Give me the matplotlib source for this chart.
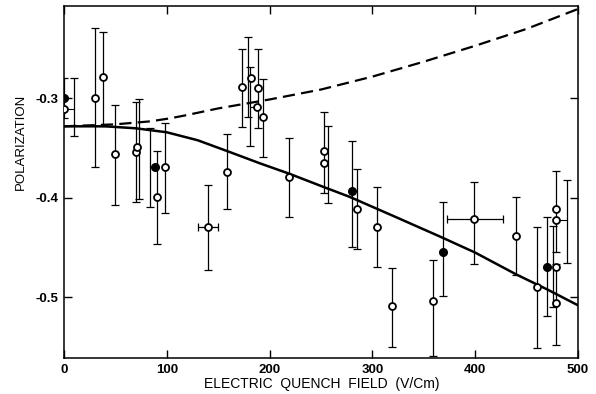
import numpy as np
import matplotlib
matplotlib.use("Agg")
import matplotlib.pyplot as plt

plt.rcParams['font.family'] = ['Liberation Sans', 'DejaVu Sans']

# open circles: field (V/cm), polarization, error bar limits, x of error bar
open_x = [0, 30, 38, 50, 70, 71, 90, 98, 140, 159, 173, 182, 188, 189, 194,
          219, 253, 253, 285, 304, 319, 359, 399, 440, 460, 479, 479, 479, 479]
open_y = [-0.311, -0.300, -0.278, -0.356, -0.354, -0.349, -0.399, -0.369, -0.429,
          -0.374, -0.288, -0.279, -0.309, -0.289, -0.319, -0.379, -0.353, -0.365,
          -0.411, -0.429, -0.509, -0.504, -0.421, -0.438, -0.490, -0.411, -0.422,
          -0.469, -0.506]
open_hi = [-0.279, -0.229, -0.233, -0.307, -0.304, -0.301, -0.353, -0.325, -0.387,
           -0.336, -0.250, -0.238, -0.268, -0.250, -0.280, -0.340, -0.314, -0.328,
           -0.371, -0.389, -0.470, -0.462, -0.384, -0.399, -0.429, -0.373, -0.382,
           -0.428, -0.466]
open_lo = [-0.338, -0.369, -0.328, -0.407, -0.404, -0.401, -0.446, -0.415, -0.473,
           -0.411, -0.329, -0.319, -0.348, -0.330, -0.359, -0.419, -0.395, -0.405,
           -0.451, -0.469, -0.550, -0.559, -0.466, -0.478, -0.551, -0.454, -0.465,
           -0.510, -0.548]
open_bar_x = [10, 30, 38, 50, 70, 73, 90, 98, 140, 159, 173, 179, 181, 189, 194,
              219, 253, 257, 285, 304, 319, 359, 399, 440, 460, 479, 489, 476, 479]

# horizontal error bars (field uncertainty)
xerr_x = [140, 399]
xerr_y = [-0.429, -0.421]
xerr_lo = [130, 373]
xerr_hi = [150, 427]

# filled circles
fill_x = [0, 89, 280, 369, 470]
fill_y = [-0.300, -0.369, -0.393, -0.454, -0.469]
fill_hi = [-0.279, -0.330, -0.343, -0.404, -0.419]
fill_lo = [-0.320, -0.409, -0.449, -0.499, -0.519]
fill_bar_x = [0, 84, 280, 369, 470]

# theory curves
solid_x = [0, 40, 70, 100, 130, 159, 190, 220, 250, 278, 320, 366, 400, 440, 470, 500]
solid_y = [-0.328, -0.328, -0.330, -0.334, -0.342, -0.353, -0.365, -0.376, -0.388,
           -0.399, -0.418, -0.439, -0.455, -0.477, -0.492, -0.508]
dash_x = [0, 50, 84, 103, 118, 150, 200, 250, 300, 350, 400, 450, 500]
dash_y = [-0.328, -0.326, -0.323, -0.320, -0.317, -0.310, -0.301, -0.291, -0.278,
          -0.263, -0.247, -0.230, -0.210]

fig = plt.figure(figsize=(5.96, 3.94), dpi=100)
ax = fig.add_axes([64/596, 36/394, 514/596, 352/394])

ax.plot(solid_x, solid_y, color='black', lw=1.8, zorder=3)
ax.plot(dash_x, dash_y, color='black', lw=1.6, dashes=(5.5, 2.8), zorder=3)

# error bars, some drawn beside their point and joined by a short line
ob = np.array(open_bar_x)
oy = np.array(open_y)
ax.errorbar(ob, oy, yerr=[oy - np.array(open_lo), np.array(open_hi) - oy],
            fmt='none', ecolor='black', elinewidth=0.9, capsize=3, capthick=0.9)
fb = np.array(fill_bar_x)
fy = np.array(fill_y)
ax.errorbar(fb, fy, yerr=[fy - np.array(fill_lo), np.array(fill_hi) - fy],
            fmt='none', ecolor='black', elinewidth=0.9, capsize=3, capthick=0.9)
for px, bx, py in zip(open_x + fill_x, open_bar_x + fill_bar_x, open_y + fill_y):
    if px != bx:
        ax.plot([px, bx], [py, py], color='black', lw=0.8)

xe = np.array(xerr_x)
ax.errorbar(xe, xerr_y, xerr=[xe - np.array(xerr_lo), np.array(xerr_hi) - xe],
            fmt='none', ecolor='black', elinewidth=0.9, capsize=3, capthick=0.9)

ax.plot(open_x, open_y, 'o', ms=5, mfc='white', mec='black', mew=1.3, zorder=5)
ax.plot(fill_x, fill_y, 'o', ms=5.5, mfc='black', mec='black', zorder=5)

ax.set_xlim(0, 500)
ax.set_ylim(-0.561, -0.207)
ax.set_xticks([0, 100, 200, 300, 400, 500])
ax.set_yticks([-0.3, -0.4, -0.5])
ax.set_yticklabels(['-0.3', '-0.4', '-0.5'])
ax.tick_params(direction='in', length=6, width=1, top=True, right=True,
               labelsize=9.5, pad=4)
for lab in ax.get_xticklabels() + ax.get_yticklabels():
    lab.set_fontweight('bold')
for s in ax.spines.values():
    s.set_linewidth(1.1)

fig.text(0.54, 0.008, 'ELECTRIC  QUENCH  FIELD  (V/Cm)', ha='center', va='bottom',
         fontsize=10)
fig.text(0.035, 0.64, 'POLARIZATION', rotation=90, ha='center', va='center',
         fontsize=9.5)

fig.savefig('out.png', dpi=100)
